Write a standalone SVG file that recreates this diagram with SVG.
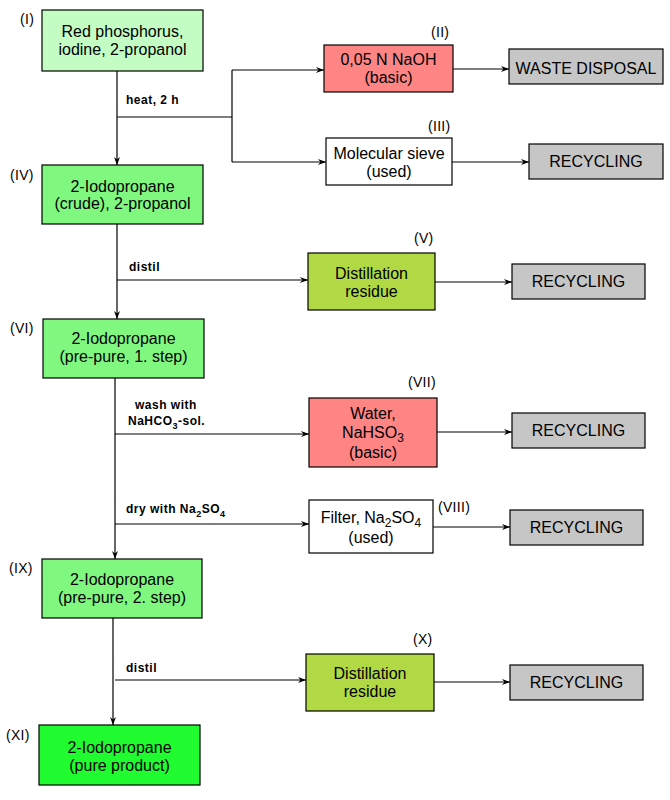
<svg xmlns="http://www.w3.org/2000/svg" width="670" height="800" viewBox="0 0 670 800">
<defs>
<style>
.box{stroke:#000;stroke-width:1.2}
.t{font-family:"Liberation Sans",Arial,sans-serif;font-size:16px;fill:#000;text-anchor:middle}
.lbl{font-family:"Liberation Sans",Arial,sans-serif;font-size:14px;fill:#000;letter-spacing:0.3px}
.op{font-family:"Liberation Sans",Arial,sans-serif;font-size:12px;font-weight:bold;fill:#000;letter-spacing:0.5px}
.c{stroke:#000;stroke-width:1.2;fill:none}
.a{marker-end:url(#arr)}
.pale{fill:#c3fdc3}
.mid{fill:#80f880}
.pure{fill:#20fc30}
.red{fill:#ff8585}
.olive{fill:#b1d944}
.grey{fill:#c6c6c6}
.white{fill:#fff}
</style>
<marker id="arr" markerWidth="9" markerHeight="7" refX="8" refY="3.5" orient="auto" markerUnits="userSpaceOnUse">
<path d="M0,0.5 L8,3.5 L0,6.5 L2.5,3.5 z" fill="#000"/>
</marker>
</defs>
<rect width="670" height="800" fill="#fff"/>

<g id="connectors">
<line class="c a" x1="117" y1="71" x2="117" y2="165"/>
<line class="c" x1="117" y1="117" x2="232" y2="117"/>
<line class="c" x1="232" y1="70" x2="232" y2="162"/>
<line class="c a" x1="232" y1="70" x2="324" y2="70"/>
<line class="c a" x1="232" y1="162" x2="326" y2="162"/>
<line class="c a" x1="453" y1="69" x2="509" y2="69"/>
<line class="c a" x1="452" y1="162" x2="529" y2="162"/>
<line class="c a" x1="117" y1="224" x2="117" y2="319"/>
<line class="c a" x1="117" y1="280" x2="308" y2="280"/>
<line class="c a" x1="435" y1="282" x2="512" y2="282"/>
<line class="c a" x1="115" y1="378" x2="115" y2="559"/>
<line class="c a" x1="115" y1="434" x2="309" y2="434"/>
<line class="c a" x1="437" y1="432" x2="512" y2="432"/>
<line class="c a" x1="115" y1="524" x2="309" y2="524"/>
<line class="c a" x1="433" y1="527" x2="510" y2="527"/>
<line class="c a" x1="113" y1="618" x2="113" y2="725"/>
<line class="c a" x1="115" y1="680" x2="306" y2="680"/>
<line class="c a" x1="434" y1="682" x2="510" y2="682"/>
<text class="op" x="126" y="104">heat, 2 h</text>
<text class="op" x="129" y="271">distil</text>
<text class="op" x="135" y="409">wash with</text>
<text class="op" x="128" y="425">NaHCO<tspan font-size="9" dy="4">3</tspan><tspan dy="-4">-sol.</tspan></text>
<text class="op" x="126" y="513">dry with Na<tspan font-size="9" dy="4">2</tspan><tspan dy="-4">SO</tspan><tspan font-size="9" dy="4">4</tspan></text>
<text class="op" x="126" y="672">distil</text>
</g>

<g id="node-I">
<rect class="box pale" x="42" y="10" width="161" height="61"/>
<text class="t" x="122.5" y="37">Red phosphorus,</text>
<text class="t" x="122.5" y="55">iodine, 2-propanol</text>
<text class="lbl" x="20" y="24">(I)</text>
</g>

<g id="node-II">
<rect class="box red" x="324" y="45" width="129" height="47"/>
<text class="t" x="388.5" y="65">0,05 N NaOH</text>
<text class="t" x="388.5" y="83">(basic)</text>
<text class="lbl" x="431" y="37">(II)</text>
</g>

<g id="node-waste">
<rect class="box grey" x="509" y="49" width="154" height="35"/>
<text class="t" x="586" y="74">WASTE DISPOSAL</text>
</g>

<g id="node-III">
<rect class="box white" x="326" y="138" width="126" height="47"/>
<text class="t" x="389" y="159">Molecular sieve</text>
<text class="t" x="389" y="177">(used)</text>
<text class="lbl" x="428" y="131">(III)</text>
</g>

<g id="node-rec1">
<rect class="box grey" x="529" y="144" width="134" height="35"/>
<text class="t" x="596" y="167">RECYCLING</text>
</g>

<g id="node-IV">
<rect class="box mid" x="42" y="165" width="161" height="59"/>
<text class="t" x="122.5" y="192">2-Iodopropane</text>
<text class="t" x="122.5" y="209">(crude), 2-propanol</text>
<text class="lbl" x="10" y="180">(IV)</text>
</g>

<g id="node-V">
<rect class="box olive" x="308" y="253" width="127" height="57"/>
<text class="t" x="371.5" y="279">Distillation</text>
<text class="t" x="371.5" y="297">residue</text>
<text class="lbl" x="414" y="243">(V)</text>
</g>

<g id="node-rec2">
<rect class="box grey" x="512" y="264" width="133" height="35"/>
<text class="t" x="578.5" y="287">RECYCLING</text>
</g>

<g id="node-VI">
<rect class="box mid" x="43" y="319" width="161" height="59"/>
<text class="t" x="123.5" y="344">2-Iodopropane</text>
<text class="t" x="123.5" y="362">(pre-pure, 1. step)</text>
<text class="lbl" x="10" y="333">(VI)</text>
</g>

<g id="node-VII">
<rect class="box red" x="309" y="398" width="128" height="69"/>
<text class="t" x="373" y="419">Water,</text>
<text class="t" x="373" y="438">NaHSO<tspan font-size="12" dy="4">3</tspan></text>
<text class="t" x="373" y="458">(basic)</text>
<text class="lbl" x="408" y="387">(VII)</text>
</g>

<g id="node-rec3">
<rect class="box grey" x="512" y="413" width="133" height="35"/>
<text class="t" x="578.5" y="436">RECYCLING</text>
</g>

<g id="node-VIII">
<rect class="box white" x="309" y="500" width="124" height="53"/>
<text class="t" x="371" y="523">Filter, Na<tspan font-size="12" dy="4">2</tspan><tspan dy="-4">SO</tspan><tspan font-size="12" dy="4">4</tspan></text>
<text class="t" x="371" y="543">(used)</text>
<text class="lbl" x="438" y="512">(VIII)</text>
</g>

<g id="node-rec4">
<rect class="box grey" x="510" y="510" width="133" height="35"/>
<text class="t" x="576.5" y="533">RECYCLING</text>
</g>

<g id="node-IX">
<rect class="box mid" x="42" y="559" width="160" height="59"/>
<text class="t" x="122" y="585">2-Iodopropane</text>
<text class="t" x="122" y="603">(pre-pure, 2. step)</text>
<text class="lbl" x="9" y="573">(IX)</text>
</g>

<g id="node-X">
<rect class="box olive" x="306" y="654" width="128" height="57"/>
<text class="t" x="370" y="679">Distillation</text>
<text class="t" x="370" y="697">residue</text>
<text class="lbl" x="413" y="644">(X)</text>
</g>

<g id="node-rec5">
<rect class="box grey" x="510" y="665" width="133" height="35"/>
<text class="t" x="576.5" y="688">RECYCLING</text>
</g>

<g id="node-XI">
<rect class="box pure" x="39" y="725" width="161" height="60"/>
<text class="t" x="119.5" y="753">2-Iodopropane</text>
<text class="t" x="119.5" y="771">(pure product)</text>
<text class="lbl" x="6" y="740">(XI)</text>
</g>
</svg>
